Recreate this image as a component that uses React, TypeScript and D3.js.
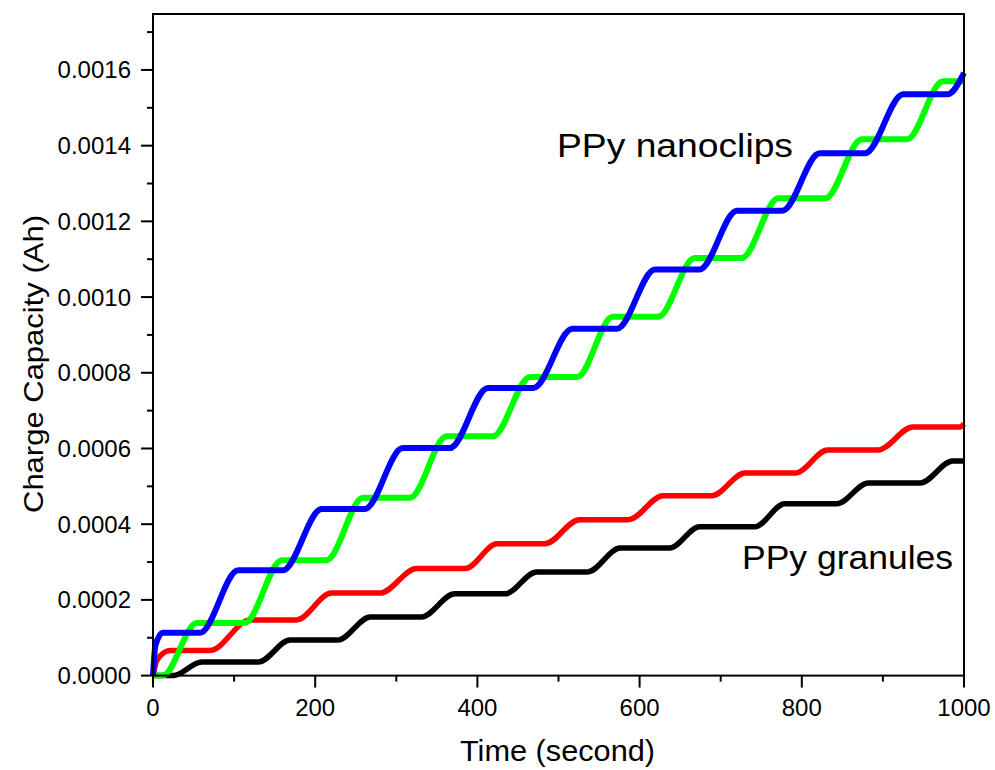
import React from "react";
import * as d3 from "d3";

const blueT = [0, 3, 12, 58, 105, 160, 208, 261, 308, 366, 413, 469, 517, 572, 619, 674, 720, 776, 822, 878, 925, 980, 1000];
const blueV = [0, 0.00008, 0.000113, 0.000113, 0.000278, 0.000278, 0.00044, 0.00044, 0.000601, 0.000601, 0.00076, 0.00076, 0.000916, 0.000916, 0.001073, 0.001073, 0.001228, 0.001228, 0.00138, 0.00138, 0.001536, 0.001536, 0.001592];

const greenT = [0, 12, 54, 113, 159, 214, 259, 317, 362, 419, 465, 523, 567, 623, 668, 726, 771, 829, 874, 930, 974, 1000];
const greenV = [0, 0, 0.000139, 0.000139, 0.000305, 0.000305, 0.00047, 0.00047, 0.000632, 0.000632, 0.000789, 0.000789, 0.000948, 0.000948, 0.001103, 0.001103, 0.001261, 0.001261, 0.001417, 0.001417, 0.00157, 0.00157];

const redT = [0, 5, 21, 70, 120, 177, 220, 280, 325, 385, 424, 483, 526, 586, 629, 689, 730, 792, 832, 894, 937, 995, 1000];
const redV = [0, 0.000041, 0.000066, 0.000066, 0.000147, 0.000147, 0.000218, 0.000218, 0.000283, 0.000283, 0.000348, 0.000348, 0.000412, 0.000412, 0.000475, 0.000475, 0.000535, 0.000535, 0.000596, 0.000596, 0.000657, 0.000657, 0.000665];

const blackT = [0, 25, 60, 130, 169, 228, 268, 331, 372, 434, 473, 536, 576, 637, 674, 742, 779, 843, 882, 946, 986, 1000];
const blackV = [0, 0, 0.000036, 0.000036, 0.000094, 0.000094, 0.000155, 0.000155, 0.000216, 0.000216, 0.000274, 0.000274, 0.000337, 0.000337, 0.000393, 0.000393, 0.000454, 0.000454, 0.000509, 0.000509, 0.000567, 0.000567];

const xMajorTicks = [0, 200, 400, 600, 800, 1000];
const xMinorTicks = [100, 300, 500, 700, 900];
const yMajorTicks = [0, 0.0002, 0.0004, 0.0006, 0.0008, 0.001, 0.0012, 0.0014, 0.0016];
const yMinorTicks = [0.0001, 0.0003, 0.0005, 0.0007, 0.0009, 0.0011, 0.0013, 0.0015, 0.0017];
const yTickLabels = ["0.0000", "0.0002", "0.0004", "0.0006", "0.0008", "0.0010", "0.0012", "0.0014", "0.0016"];

const series = [
  { name: "black", t: blackT, v: blackV, color: "#000000", w: 5.5 },
  { name: "red", t: redT, v: redV, color: "#ff0000", w: 5.5 },
  { name: "green", t: greenT, v: greenV, color: "#00ff00", w: 6 },
  { name: "blue", t: blueT, v: blueV, color: "#0000ff", w: 6 },
];

const FONT = "'Liberation Sans', Arial, sans-serif";

export default function App() {
  const left = 153, right = 964, top = 14, bottom = 675.6;
  const x = d3.scaleLinear().domain([0, 1000]).range([left, right]);
  const y = d3.scaleLinear().domain([0, 0.0017478]).range([bottom, top]);
  const line = d3
    .line<[number, number]>()
    .x((d) => x(d[0]))
    .y((d) => y(d[1]))
    .curve(d3.curveMonotoneX);

  return (
    <svg width={995} height={770} style={{ position: "absolute", left: 0, top: 0, background: "#fff" }}>
      <rect x={0} y={0} width={995} height={770} fill="#fff" />
      {series.map((s) => (
        <path
          key={s.name}
          d={line(s.t.map((t, i) => [t, s.v[i]] as [number, number])) || ""}
          fill="none"
          stroke={s.color}
          strokeWidth={s.w}
          strokeLinejoin="round"
        />
      ))}
      <rect x={left} y={top} width={right - left} height={bottom - top} fill="none" stroke="#000" strokeWidth={2} />
      {xMajorTicks.map((t) => (
        <g key={"xM" + t}>
          <line x1={x(t)} x2={x(t)} y1={bottom} y2={bottom + 12} stroke="#000" strokeWidth={2} />
          <text x={x(t)} y={716} fontFamily={FONT} fontSize={24} textAnchor="middle" fill="#000">
            {t}
          </text>
        </g>
      ))}
      {xMinorTicks.map((t) => (
        <line key={"xm" + t} x1={x(t)} x2={x(t)} y1={bottom} y2={bottom + 6} stroke="#000" strokeWidth={2} />
      ))}
      {yMajorTicks.map((v, i) => (
        <g key={"yM" + v}>
          <line x1={left - 12} x2={left} y1={y(v)} y2={y(v)} stroke="#000" strokeWidth={2} />
          <text x={131} y={y(v) + 8.5} fontFamily={FONT} fontSize={24} textAnchor="end" fill="#000">
            {yTickLabels[i]}
          </text>
        </g>
      ))}
      {yMinorTicks.map((v) => (
        <line key={"ym" + v} x1={left - 6} x2={left} y1={y(v)} y2={y(v)} stroke="#000" strokeWidth={2} />
      ))}
      <text x={460} y={761} fontFamily={FONT} fontSize={29} textLength={195} lengthAdjust="spacingAndGlyphs" fill="#000">
        Time (second)
      </text>
      <text
        transform={`translate(43, 513) rotate(-90)`}
        fontFamily={FONT}
        fontSize={28}
        textLength={298}
        lengthAdjust="spacingAndGlyphs"
        fill="#000"
      >
        Charge Capacity (Ah)
      </text>
      <text x={557} y={157} fontFamily={FONT} fontSize={33} textLength={236} lengthAdjust="spacingAndGlyphs" fill="#000">
        PPy nanoclips
      </text>
      <text x={742} y={569} fontFamily={FONT} fontSize={33} textLength={211} lengthAdjust="spacingAndGlyphs" fill="#000">
        PPy granules
      </text>
    </svg>
  );
}
